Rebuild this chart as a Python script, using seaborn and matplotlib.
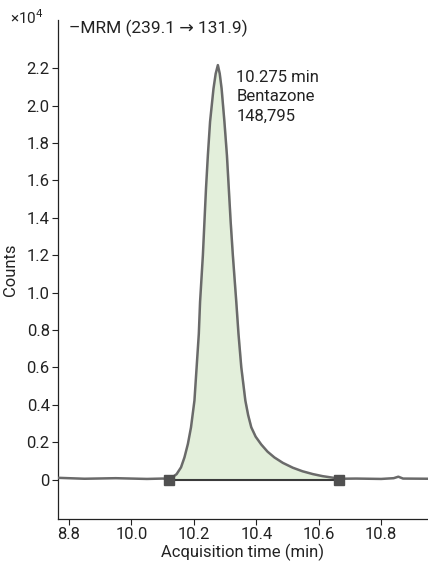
import matplotlib
matplotlib.use("Agg")
import matplotlib.pyplot as plt
import seaborn as sns
import numpy as np
import pandas as pd

# chromatogram trace (counts in units of 1e4)
time = [9.765, 9.85, 9.95, 10.05, 10.10, 10.125, 10.131, 10.145, 10.159, 10.170,
        10.181, 10.191, 10.202, 10.209, 10.216, 10.220, 10.229, 10.234, 10.239,
        10.245, 10.252, 10.263, 10.270, 10.277, 10.283, 10.289, 10.298, 10.306,
        10.312, 10.318, 10.325, 10.336, 10.343, 10.352, 10.365, 10.374, 10.384,
        10.398, 10.416, 10.436, 10.458, 10.485, 10.517, 10.548, 10.581, 10.612,
        10.644, 10.665, 10.72, 10.80, 10.84, 10.855, 10.87, 10.95]
counts = [0.010, 0.005, 0.008, 0.004, 0.006, 0.004, 0.012, 0.030, 0.066, 0.119,
          0.191, 0.280, 0.423, 0.601, 0.780, 0.950, 1.199, 1.378, 1.556,
          1.734, 1.913, 2.090, 2.170, 2.216, 2.170, 2.090, 1.913, 1.734,
          1.556, 1.378, 1.199, 0.950, 0.780, 0.601, 0.423, 0.345, 0.280,
          0.230, 0.188, 0.150, 0.119, 0.090, 0.064, 0.045, 0.030, 0.019,
          0.011, 0.005, 0.006, 0.004, 0.008, 0.016, 0.006, 0.005]

# integration limits of the peak
peak_start = 10.12
peak_end = 10.665

x_ticks = [9.8, 10.0, 10.2, 10.4, 10.6, 10.8]
x_labels = ["8.8", "10.0", "10.2", "10.4", "10.6", "10.8"]
y_ticks = [0, 0.2, 0.4, 0.6, 0.8, 1.0, 1.2, 1.4, 1.6, 1.8, 2.0, 2.2]
y_labels = ["0", "0.2", "0.4", "0.6", "0.8", "1.0", "1.2", "1.4", "1.6", "1.8", "2.0", "2.2"]

sns.set_theme(style="ticks")
plt.rcParams["font.family"] = ["Roboto", "DejaVu Sans"]

df = pd.DataFrame({"time": time, "counts": counts})

fig = plt.figure(figsize=(4.28, 5.67), dpi=100)
ax = fig.add_axes([0.1355, 0.0847, 0.8645, 0.88])

t = np.array(time)
c = np.array(counts)
mask = (t >= peak_start) & (t <= peak_end)
ax.fill_between(t, 0, c, where=mask, color="#e3efdb", interpolate=True, zorder=1)

sns.lineplot(data=df, x="time", y="counts", ax=ax, color="#6a6a6a", linewidth=1.8,
             zorder=3)
ax.plot([peak_start, peak_end], [0, 0], color="#3a3a3a", linewidth=1.5, zorder=4)
ax.plot([peak_start, peak_end], [0, 0], linestyle="none", marker="s", markersize=7,
        color="#505050", zorder=5)

ax.set_xlim(9.765, 10.95)
ax.set_ylim(-0.21, 2.457)
ax.set_xticks(x_ticks)
ax.set_xticklabels(x_labels)
ax.set_yticks(y_ticks)
ax.set_yticklabels(y_labels)
ax.tick_params(labelsize=12, length=4, width=0.8, colors="#222", pad=2)
ax.set_xlabel("Acquisition time (min)", fontsize=12, color="#222", labelpad=1)
ax.set_ylabel("Counts", fontsize=12, color="#222")
ax.yaxis.set_label_coords(-0.108, 0.5)
for s in ["top", "right"]:
    ax.spines[s].set_visible(False)
for s in ["left", "bottom"]:
    ax.spines[s].set_color("#222")
    ax.spines[s].set_linewidth(0.9)

fig.text(0.024, 0.968, "×10$^4$", fontsize=11, color="#222", va="center")
ax.text(0.03, 0.984, "\u2013MRM (239.1 \u2192 131.9)", transform=ax.transAxes,
        fontsize=12.5, color="#222", va="center", ha="left")
ax.text(10.3365, 2.19, "10.275 min\nBentazone\n148,795", fontsize=12, color="#222",
        va="top", ha="left", linespacing=1.35)

fig.savefig("out.png", dpi=100)
